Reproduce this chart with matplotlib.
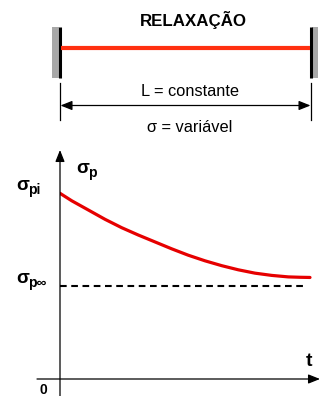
import numpy as np
import matplotlib
matplotlib.use('Agg')
import matplotlib.pyplot as plt
from matplotlib.patches import Rectangle

plt.rcParams['font.family'] = ['Liberation Sans', 'DejaVu Sans']
plt.rcParams['hatch.color'] = '#e0e0e0'
plt.rcParams['hatch.linewidth'] = 0.8

# curve: t normalised to 1 at the right end, sigma_p normalised to sigma_pi
t = [0.0, 0.047, 0.113, 0.180, 0.247, 0.313, 0.380, 0.447, 0.513,
     0.580, 0.647, 0.713, 0.780, 0.847, 0.913, 0.960, 1.0]
sigma_p = [0.993, 0.953, 0.904, 0.854, 0.809, 0.770, 0.733, 0.696, 0.662,
           0.632, 0.606, 0.584, 0.566, 0.554, 0.546, 0.544, 0.543]
sigma_inf = 0.50
t_dash_end = 0.972

title = 'RELAXAÇÃO'
dim_top = 'L = constante'
dim_bot = 'σ = variável'

W, H = 320, 396
fig = plt.figure(figsize=(W/100, H/100), dpi=100)

# overlay in pixel coordinates for the sketch at the top
ov = fig.add_axes([0, 0, 1, 1])
ov.set_xlim(0, W) ; ov.set_ylim(H, 0) ; ov.axis('off')

# walls
wall_kw = {'facecolor': '#a8a8a8', 'edgecolor': 'none', 'hatch': '------', 'lw': 0}
ov.add_patch(Rectangle((52, 27), 6.5, 51, **wall_kw))
ov.add_patch(Rectangle((312, 27), 6, 51, **wall_kw))
ov.plot([59.5, 59.5], [27, 78], color='k', lw=2.2, solid_capstyle='butt')
ov.plot([310.8, 310.8], [27, 78], color='k', lw=2.2, solid_capstyle='butt')

# bar
ov.plot([60.5, 309.5], [48.3, 48.3], color='#ff3010', lw=3.0, solid_capstyle='butt')

# dimension line
lin_kw = {'color': 'k', 'lw': 0.9}
ov.plot([60, 60], [83, 120], **lin_kw) ; ov.plot([311, 311], [83, 120], **lin_kw)
ov.annotate('', xy=(60.5, 105.5), xytext=(310.5, 105.5),
            arrowprops=dict(arrowstyle='<|-|>,head_length=0.7,head_width=0.28', color='k', lw=0.9, shrinkA=0, shrinkB=0))

ov.text(193, 20, title, ha='center', va='center', fontsize=12.2, fontweight='bold')
ov.text(190, 92, dim_top, ha='center', va='center', fontsize=11.8)
ov.text(190, 128, dim_bot, ha='center', va='center', fontsize=11.8)

# chart axes
x0, y0, xtop, ytop = 60, 379, 320, 150
ax = fig.add_axes([x0/W, (H-y0)/H, (W-x0)/W, (y0-ytop)/H])
ax.set_xlim(0, 1.04) ; ax.set_ylim(0, 229/187)
ax.axis('off')
ax.patch.set_alpha(0)

ax.plot(t, sigma_p, color='#e60000', lw=2.3, solid_capstyle='round', solid_joinstyle='round')
ax.plot([0, t_dash_end], [sigma_inf, sigma_inf], color='k', lw=1.5, dashes=(3.2, 2.2))

arr = dict(arrowstyle='-|>,head_length=0.7,head_width=0.28', color='k', lw=0.9, shrinkA=0, shrinkB=0)
ax.annotate('', xy=(1.04, 0), xytext=(-0.092, 0), arrowprops=arr, annotation_clip=False)
ax.annotate('', xy=(0, 229/187), xytext=(0, -0.1), arrowprops=arr, annotation_clip=False)

# labels (pixel coordinates)
def sig_label(x, y, sub):
    ov.text(x, y, 'σ', ha='left', va='baseline', fontsize=13.5, fontweight='bold')
    ov.text(x + 12, y + 4, sub, ha='left', va='baseline', fontsize=10, fontweight='bold')

sig_label(16.5, 190, 'pi')
sig_label(16.5, 283, 'p∞')
sig_label(76.5, 173, 'p')
ov.text(309, 362, 't', ha='center', va='center', fontsize=14, fontweight='bold')
ov.text(43, 383, '0', ha='center', va='top', fontsize=10, fontweight='bold')

fig.savefig('out.png', dpi=100)
